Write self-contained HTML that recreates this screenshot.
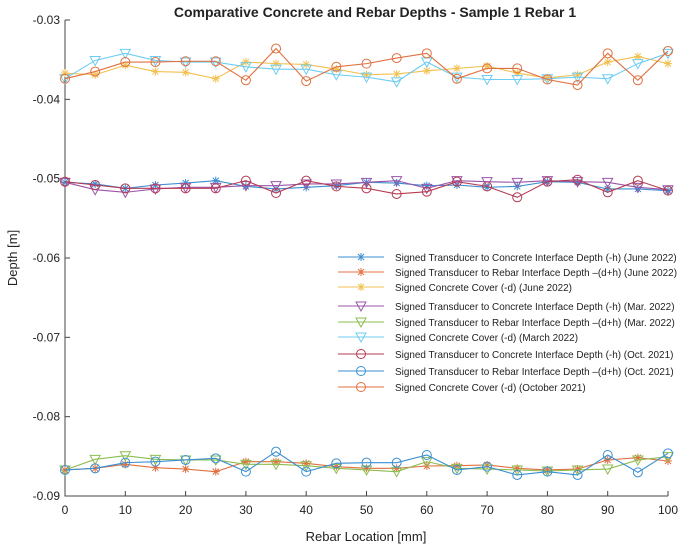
<!DOCTYPE html>
<html><head><meta charset="utf-8"><style>
body{margin:0;background:#fff;}
svg{display:block;font-family:"Liberation Sans",Arial,sans-serif;}
</style></head><body>
<svg id="chart" width="685" height="551">
<rect width="685" height="551" fill="#fff"/>
<text x="375" y="17" text-anchor="middle" font-size="14" font-weight="bold" fill="#222">Comparative Concrete and Rebar Depths - Sample 1 Rebar 1</text>
<text x="0" y="0" transform="translate(17,258) rotate(-90)" text-anchor="middle" font-size="13" fill="#222">Depth [m]</text>
<text x="366" y="541" text-anchor="middle" font-size="13" fill="#222">Rebar Location [mm]</text>
<g id="axes"></g><g id="series"></g><g id="legend"></g>
</svg>
<script>
const xs=[0,5,10,15,20,25,30,35,40,45,50,55,60,65,70,75,80,85,90,95,100];
const xTicks=[0,10,20,30,40,50,60,70,80,90,100];
const yTicks=[-0.03,-0.04,-0.05,-0.06,-0.07,-0.08,-0.09];
const yTickLabels=["-0.03","-0.04","-0.05","-0.06","-0.07","-0.08","-0.09"];
const juneH=[-.05046,-.05067,-.05122,-.0508,-.05055,-.05025,-.05097,-.0513,-.05109,-.05088,-.05046,-.05055,-.05088,-.0508,-.05109,-.05097,-.05038,-.05046,-.0513,-.0513,-.05151];
const juneDH=[-.08672,-.08651,-.08601,-.08643,-.0866,-.08693,-.08567,-.08567,-.08588,-.0863,-.08651,-.08651,-.08622,-.08618,-.08609,-.08651,-.08672,-.0866,-.08546,-.08517,-.08559];
const juneD=[-.0367,-.0369,-.0357,-.0365,-.0366,-.0374,-.0353,-.0355,-.0356,-.0362,-.0369,-.0368,-.0364,-.0361,-.0358,-.0367,-.0373,-.0369,-.0353,-.0346,-.0355];
const marH=[-.05046,-.05139,-.05172,-.0513,-.05109,-.05109,-.05088,-.05088,-.05067,-.05067,-.05046,-.05025,-.05122,-.05025,-.05038,-.05046,-.05025,-.05038,-.05046,-.05109,-.05139];
const marDH=[-.08672,-.08538,-.08492,-.08538,-.08546,-.08546,-.08601,-.08601,-.08618,-.08651,-.08672,-.08693,-.08567,-.08651,-.0866,-.08672,-.08685,-.08672,-.0866,-.08546,-.08504];
const marD=[-.0374,-.0351,-.0342,-.0351,-.0353,-.0353,-.0359,-.0362,-.0362,-.0369,-.0372,-.0378,-.0353,-.0372,-.0375,-.0375,-.0374,-.0372,-.0374,-.0355,-.0342];
const octH=[-.05038,-.0508,-.05122,-.05122,-.05122,-.05122,-.05025,-.05181,-.05025,-.05097,-.05122,-.05193,-.05164,-.05038,-.05097,-.05235,-.05038,-.05013,-.05172,-.05025,-.05151];
const octDH=[-.08672,-.08651,-.0858,-.08567,-.08546,-.08525,-.08693,-.08441,-.08693,-.08588,-.0858,-.0858,-.08483,-.08672,-.0863,-.08735,-.08693,-.08735,-.08483,-.08702,-.08462];
const octD=[-.0374,-.0365,-.0353,-.0353,-.0352,-.0352,-.0376,-.0336,-.0377,-.0359,-.0355,-.0348,-.0342,-.0374,-.0361,-.0361,-.0375,-.0382,-.0342,-.0376,-.0339];
const labels=["Signed Transducer to Concrete Interface Depth (-h) (June 2022)","Signed Transducer to Rebar Interface Depth –(d+h) (June 2022)","Signed Concrete Cover (-d) (June 2022)","Signed Transducer to Concrete Interface Depth (-h) (Mar. 2022)","Signed Transducer to Rebar Interface Depth –(d+h) (Mar. 2022)","Signed Concrete Cover (-d) (March 2022)","Signed Transducer to Concrete Interface Depth (-h) (Oct. 2021)","Signed Transducer to Rebar Interface Depth –(d+h) (Oct. 2021)","Signed Concrete Cover (-d) (October 2021)"];
const NS="http://www.w3.org/2000/svg";
const L=65,R=668,T=20,B=496;
const X=v=>L+(v-0)/(100-0)*(R-L);
const Y=v=>T+(-0.03-v)/(0.06)*(B-T);
function mk(tag,attrs,parent){const e=document.createElementNS(NS,tag);for(const k in attrs)e.setAttribute(k,attrs[k]);parent.appendChild(e);return e;}
const ax=document.getElementById('axes');
const frame=mk('path',{d:`M${L},${T}V${B}H${R}`,fill:'none',stroke:'#444','stroke-width':1},ax);


xTicks.forEach(t=>{
 const x=X(t);
 mk('line',{x1:x,x2:x,y1:B,y2:B-5,stroke:'#444'},ax);
 const tx=mk('text',{x:x,y:B+18,'text-anchor':'middle','font-size':12,fill:'#222'},ax);
 tx.textContent=t;
 
 
});
yTicks.forEach((t,i)=>{
 const y=Y(t);
 mk('line',{x1:L,x2:L+5,y1:y,y2:y,stroke:'#444'},ax);
 const tx=mk('text',{x:L-5,y:y+4,'text-anchor':'end','font-size':12,fill:'#222'},ax);
 tx.textContent=yTickLabels[i];
 
 
});
const defs=[
 [juneH,'#3a8fd0','star','june-h'],[juneDH,'#e0703f','star','june-dh'],[juneD,'#f1c050','star','june-d'],
 [marH,'#9a55a8','tri','mar-h'],[marDH,'#8cbc50','tri','mar-dh'],[marD,'#6cccf2','tri','mar-d'],
 [octH,'#b53a52','circ','oct-h'],[octDH,'#3a8fd0','circ','oct-dh'],[octD,'#e0703f','circ','oct-d']];
function marker(g,kind,x,y,c){
 if(kind==='star'){mk('path',{d:`M${x-4},${y}H${x+4}M${x},${y-4}V${y+4}M${x-3},${y-3}L${x+3},${y+3}M${x-3},${y+3}L${x+3},${y-3}`,stroke:c,'stroke-width':1,fill:'none'},g);}
 else if(kind==='tri'){mk('path',{d:`M${x-5},${y-4}H${x+5}L${x},${y+5}Z`,stroke:c,fill:'none'},g);}
 else mk('circle',{cx:x,cy:y,r:4.5,stroke:c,fill:'none'},g);
}
const sg=document.getElementById('series');
defs.forEach(([vals,c,kind,name])=>{
 const g=mk('g',{},sg);
 
 
 mk('polyline',{points:vals.map((v,i)=>X(xs[i])+','+Y(v)).join(' '),fill:'none',stroke:c,'stroke-width':1.1},g);
 vals.forEach((v,i)=>marker(g,kind,X(xs[i]),Y(v),c));
});
const lg=document.getElementById('legend');
const rowsY=[257,272,287,306,322,337,354,371,387];
const texts=[];
defs.forEach(([vals,c,kind,name],i)=>{
 const g=mk('g',{},lg);
 
 
 const y=rowsY[i];
 mk('line',{x1:338,x2:384,y1:y,y2:y,stroke:c,'stroke-width':1.1},g);
 marker(g,kind,361,y,c);
 const t=mk('text',{x:395,y:y+4,'font-size':10.5,fill:'#222'},g);
 t.textContent=labels[i];
 texts.push(t);
});
let maxW=0;texts.forEach(t=>{maxW=Math.max(maxW,t.getComputedTextLength());});
const scale=maxW>0?282/maxW:1;
if(scale<1){texts.forEach(t=>{const w=t.getComputedTextLength();t.setAttribute('textLength',(w*scale).toFixed(1));t.setAttribute('lengthAdjust','spacingAndGlyphs');});}
</script>
</body></html>
